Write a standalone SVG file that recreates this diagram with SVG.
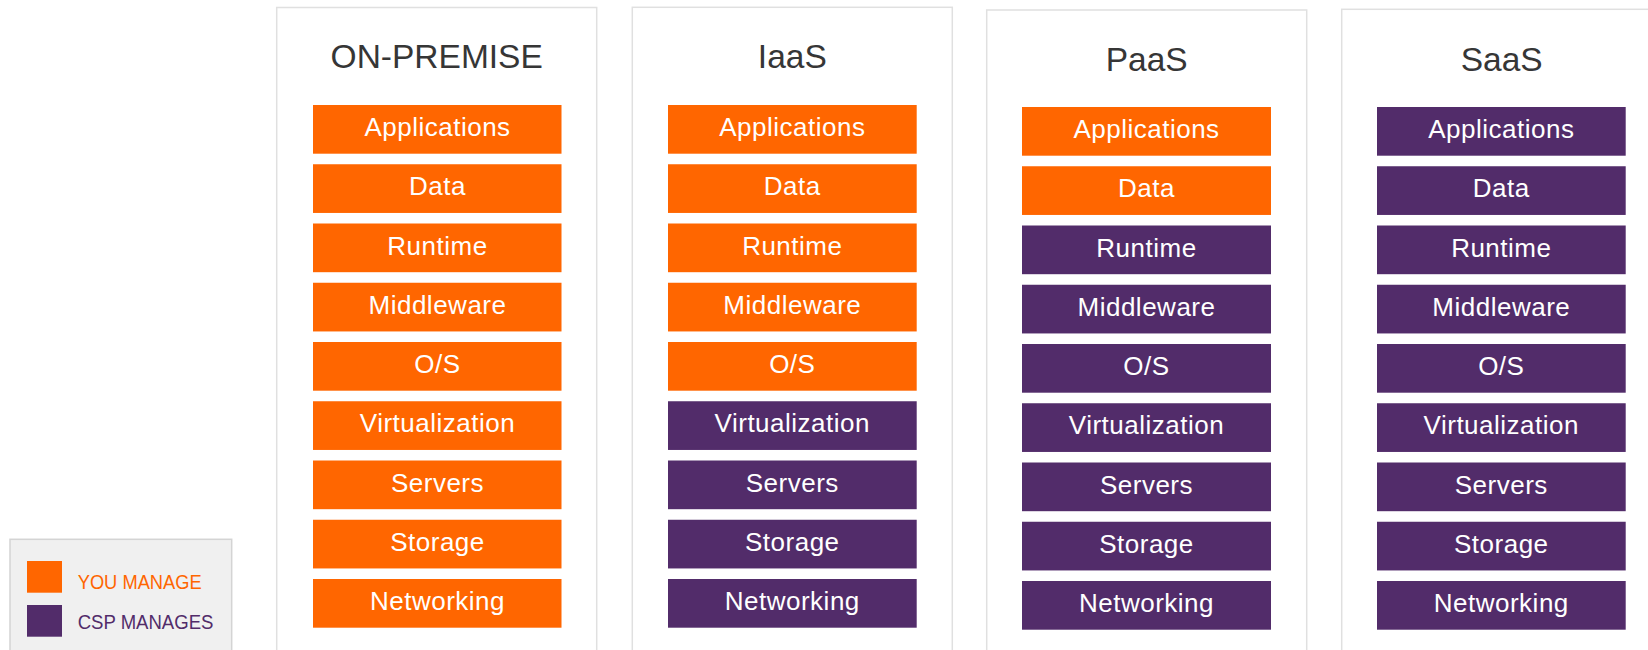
<svg xmlns="http://www.w3.org/2000/svg" width="1648" height="650" viewBox="0 0 1648 650">
<style>
.panel{fill:#ffffff;stroke:#e0e0e0;stroke-width:1.5}
.title{font-family:"Liberation Sans",Arial,sans-serif;font-size:33.5px;fill:#363636;text-anchor:middle}
.you{fill:#ff6600}
.csp{fill:#522c6a}
.lbl{font-family:"Liberation Sans",Arial,sans-serif;font-size:26px;fill:#ffffff;text-anchor:middle;letter-spacing:0.5px}
.legend{fill:#f0f0f0;stroke:#d4d4d4;stroke-width:1.5}
.ltxt{font-family:"Liberation Sans",Arial,sans-serif;font-size:20px}
</style>
<rect width="1648" height="650" fill="#ffffff"/>

<g id="legend">
<rect class="legend" x="10" y="539.3" width="221.7" height="130"/>
<rect class="you" x="27" y="561" width="35" height="31.7"/>
<rect class="csp" x="27" y="605" width="35" height="31.7"/>
<text class="ltxt" x="77.7" y="589.3" fill="#ff6600" textLength="124" lengthAdjust="spacingAndGlyphs">YOU MANAGE</text>
<text class="ltxt" x="77.7" y="629" fill="#522c6a" textLength="135.7" lengthAdjust="spacingAndGlyphs">CSP MANAGES</text>
</g>

<g id="onpremise">
<rect class="panel" x="276.7" y="7.5" width="320" height="700"/>
<text class="title" x="436.7" y="68.3">ON-PREMISE</text>
<rect class="you" x="313" y="105" width="248.5" height="48.7"/><text class="lbl" x="437.5" y="136">Applications</text>
<rect class="you" x="313" y="164.25" width="248.5" height="48.7"/><text class="lbl" x="437.5" y="195.25">Data</text>
<rect class="you" x="313" y="223.5" width="248.5" height="48.7"/><text class="lbl" x="437.5" y="254.5">Runtime</text>
<rect class="you" x="313" y="282.75" width="248.5" height="48.7"/><text class="lbl" x="437.5" y="313.75">Middleware</text>
<rect class="you" x="313" y="342" width="248.5" height="48.7"/><text class="lbl" x="437.5" y="373">O/S</text>
<rect class="you" x="313" y="401.25" width="248.5" height="48.7"/><text class="lbl" x="437.5" y="432.25">Virtualization</text>
<rect class="you" x="313" y="460.5" width="248.5" height="48.7"/><text class="lbl" x="437.5" y="491.5">Servers</text>
<rect class="you" x="313" y="519.75" width="248.5" height="48.7"/><text class="lbl" x="437.5" y="550.75">Storage</text>
<rect class="you" x="313" y="579" width="248.5" height="48.7"/><text class="lbl" x="437.5" y="610">Networking</text>
</g>

<g id="iaas">
<rect class="panel" x="632.3" y="7.3" width="320" height="700"/>
<text class="title" x="792.3" y="68.3">IaaS</text>
<rect class="you" x="668" y="105" width="248.7" height="48.7"/><text class="lbl" x="792.3" y="136">Applications</text>
<rect class="you" x="668" y="164.25" width="248.7" height="48.7"/><text class="lbl" x="792.3" y="195.25">Data</text>
<rect class="you" x="668" y="223.5" width="248.7" height="48.7"/><text class="lbl" x="792.3" y="254.5">Runtime</text>
<rect class="you" x="668" y="282.75" width="248.7" height="48.7"/><text class="lbl" x="792.3" y="313.75">Middleware</text>
<rect class="you" x="668" y="342" width="248.7" height="48.7"/><text class="lbl" x="792.3" y="373">O/S</text>
<rect class="csp" x="668" y="401.25" width="248.7" height="48.7"/><text class="lbl" x="792.3" y="432.25">Virtualization</text>
<rect class="csp" x="668" y="460.5" width="248.7" height="48.7"/><text class="lbl" x="792.3" y="491.5">Servers</text>
<rect class="csp" x="668" y="519.75" width="248.7" height="48.7"/><text class="lbl" x="792.3" y="550.75">Storage</text>
<rect class="csp" x="668" y="579" width="248.7" height="48.7"/><text class="lbl" x="792.3" y="610">Networking</text>
</g>

<g id="paas">
<rect class="panel" x="986.7" y="10" width="320" height="700"/>
<text class="title" x="1146.7" y="71">PaaS</text>
<rect class="you" x="1022" y="107" width="249" height="48.7"/><text class="lbl" x="1146.5" y="138">Applications</text>
<rect class="you" x="1022" y="166.25" width="249" height="48.7"/><text class="lbl" x="1146.5" y="197.25">Data</text>
<rect class="csp" x="1022" y="225.5" width="249" height="48.7"/><text class="lbl" x="1146.5" y="256.5">Runtime</text>
<rect class="csp" x="1022" y="284.75" width="249" height="48.7"/><text class="lbl" x="1146.5" y="315.75">Middleware</text>
<rect class="csp" x="1022" y="344" width="249" height="48.7"/><text class="lbl" x="1146.5" y="375">O/S</text>
<rect class="csp" x="1022" y="403.25" width="249" height="48.7"/><text class="lbl" x="1146.5" y="434.25">Virtualization</text>
<rect class="csp" x="1022" y="462.5" width="249" height="48.7"/><text class="lbl" x="1146.5" y="493.5">Servers</text>
<rect class="csp" x="1022" y="521.75" width="249" height="48.7"/><text class="lbl" x="1146.5" y="552.75">Storage</text>
<rect class="csp" x="1022" y="581" width="249" height="48.7"/><text class="lbl" x="1146.5" y="612">Networking</text>
</g>

<g id="saas">
<rect class="panel" x="1341.7" y="9.3" width="320" height="700"/>
<text class="title" x="1501.7" y="71">SaaS</text>
<rect class="csp" x="1377" y="107" width="248.7" height="48.7"/><text class="lbl" x="1501.3" y="138">Applications</text>
<rect class="csp" x="1377" y="166.25" width="248.7" height="48.7"/><text class="lbl" x="1501.3" y="197.25">Data</text>
<rect class="csp" x="1377" y="225.5" width="248.7" height="48.7"/><text class="lbl" x="1501.3" y="256.5">Runtime</text>
<rect class="csp" x="1377" y="284.75" width="248.7" height="48.7"/><text class="lbl" x="1501.3" y="315.75">Middleware</text>
<rect class="csp" x="1377" y="344" width="248.7" height="48.7"/><text class="lbl" x="1501.3" y="375">O/S</text>
<rect class="csp" x="1377" y="403.25" width="248.7" height="48.7"/><text class="lbl" x="1501.3" y="434.25">Virtualization</text>
<rect class="csp" x="1377" y="462.5" width="248.7" height="48.7"/><text class="lbl" x="1501.3" y="493.5">Servers</text>
<rect class="csp" x="1377" y="521.75" width="248.7" height="48.7"/><text class="lbl" x="1501.3" y="552.75">Storage</text>
<rect class="csp" x="1377" y="581" width="248.7" height="48.7"/><text class="lbl" x="1501.3" y="612">Networking</text>
</g>

<g id="connectors"></g>
</svg>
